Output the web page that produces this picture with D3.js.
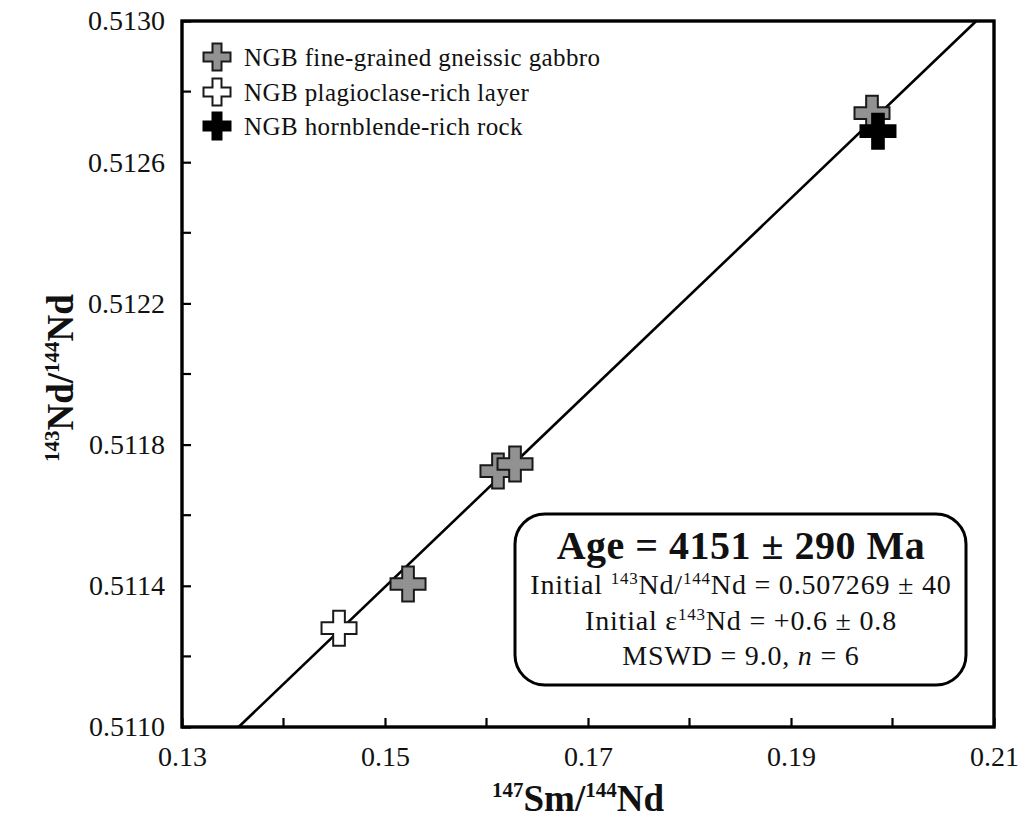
<!DOCTYPE html>
<html>
<head>
<meta charset="utf-8">
<script src="https://cdn.jsdelivr.net/npm/d3@7"></script>
<style>
  html, body { margin: 0; padding: 0; background: #fff; }
  svg { display: block; }
  text { font-family: "Liberation Serif", "Times New Roman", serif; fill: #111; }
</style>
</head>
<body>
<svg id="chart" width="1026" height="819"></svg>
<script>
// Sm–Nd whole-rock isochron data (147Sm/144Nd, 143Nd/144Nd)
const gabbroSm = [0.15227, 0.16113, 0.16281, 0.19798];
const gabbroNd = [0.511405, 0.511725, 0.511745, 0.512739];
const plagSm = [0.14547];
const plagNd = [0.511280];
const hornSm = [0.19857];
const hornNd = [0.512688];

const seriesNames = ["NGB fine-grained gneissic gabbro", "NGB plagioclase-rich layer", "NGB hornblende-rich rock"];
const xTicks = [0.13, 0.15, 0.17, 0.19, 0.21];
const xMinor = [0.14, 0.16, 0.18, 0.20];
const yTicks = [0.5110, 0.5114, 0.5118, 0.5122, 0.5126, 0.5130];
const yMinor = [0.5112, 0.5116, 0.5120, 0.5124, 0.5128];

// Isochron result
const ageMa = 4151, ageErr = 290;
const initialRatio = 0.507269;
const lambdaSm = 6.54e-12; // 147Sm decay constant, 1/yr
const slope = Math.exp(lambdaSm * ageMa * 1e6) - 1;

const svg = d3.select("#chart");
const L = 182, R = 994, T = 21, B = 727;

const x = d3.scaleLinear().domain([0.13, 0.21]).range([L, R]);
const y = d3.scaleLinear().domain([0.5110, 0.5130]).range([B, T]);

// Isochron line clipped to the plot frame
const yLo = y.domain()[0], yHi = y.domain()[1];
const lineData = [
  [(yLo - initialRatio) / slope, yLo],
  [(yHi - initialRatio) / slope, yHi]
];
svg.append("path")
  .attr("d", d3.line().x(d => x(d[0])).y(d => y(d[1]))(lineData))
  .attr("stroke", "#000").attr("stroke-width", 2.6).attr("fill", "none");

// Markers
const crossBig = d3.symbol(d3.symbolCross).size(5 * Math.pow(35 / 3, 2));
const crossSmall = d3.symbol(d3.symbolCross).size(5 * Math.pow(27 / 3, 2));
const styles = [
  { fill: "#929292", stroke: "#1a1a1a" },
  { fill: "#ffffff", stroke: "#1a1a1a" },
  { fill: "#000000", stroke: "#000000" }
];
const groups = [
  { sm: plagSm, nd: plagNd, s: styles[1] },
  { sm: gabbroSm, nd: gabbroNd, s: styles[0] },
  { sm: hornSm, nd: hornNd, s: styles[2] }
];
groups.forEach(g => {
  svg.append("g").selectAll("path")
    .data(g.sm.map((v, i) => [v, g.nd[i]]))
    .join("path")
    .attr("transform", d => `translate(${x(d[0])},${y(d[1])})`)
    .attr("d", crossBig)
    .attr("fill", g.s.fill)
    .attr("stroke", g.s.stroke)
    .attr("stroke-width", 2);
});

// Axes (ticks point inward)
const xAxis = d3.axisBottom(x).tickValues(xTicks).tickFormat(d3.format(".2f")).tickSizeInner(-9).tickSizeOuter(0).tickPadding(19);
const yAxis = d3.axisLeft(y).tickValues(yTicks).tickFormat(d3.format(".4f")).tickSizeInner(-9).tickSizeOuter(0).tickPadding(17);

const gx = svg.append("g").attr("transform", `translate(0,${B})`).call(xAxis);
const gy = svg.append("g").attr("transform", `translate(${L},0)`).call(yAxis);
[gx, gy].forEach(g => {
  g.attr("font-family", null);
  g.select(".domain").remove();
  g.selectAll("line").attr("stroke", "#000").attr("stroke-width", 2.2);
  g.selectAll("text").attr("font-size", 28).attr("fill", "#111")
    .style("font-family", '"Liberation Serif", serif');
});
svg.append("g").attr("transform", `translate(0,${B})`)
  .selectAll("line").data(xMinor).join("line")
  .attr("x1", d => x(d)).attr("x2", d => x(d)).attr("y1", 0).attr("y2", -9)
  .attr("stroke", "#000").attr("stroke-width", 2.2);
svg.append("g").attr("transform", `translate(${L},0)`)
  .selectAll("line").data(yMinor).join("line")
  .attr("y1", d => y(d)).attr("y2", d => y(d)).attr("x1", 0).attr("x2", 9)
  .attr("stroke", "#000").attr("stroke-width", 2.2);

// Frame
svg.append("rect").attr("x", L).attr("y", T).attr("width", R - L).attr("height", B - T)
  .attr("fill", "none").attr("stroke", "#000").attr("stroke-width", 3.4);

// Axis titles
const xt = svg.append("text").attr("x", 578).attr("y", 811)
  .attr("text-anchor", "middle").attr("font-size", 37).attr("font-weight", "bold");
xt.append("tspan").text("147").attr("font-size", 21).attr("dy", -14);
xt.append("tspan").text("Sm/").attr("dy", 14);
xt.append("tspan").text("144").attr("font-size", 21).attr("dy", -14);
xt.append("tspan").text("Nd").attr("dy", 14);

const yt = svg.append("text").attr("transform", `translate(73,${(T + B) / 2 + 4}) rotate(-90)`)
  .attr("text-anchor", "middle").attr("font-size", 37).attr("font-weight", "bold");
yt.append("tspan").text("143").attr("font-size", 21).attr("dy", -14);
yt.append("tspan").text("Nd/").attr("dy", 14);
yt.append("tspan").text("144").attr("font-size", 21).attr("dy", -14);
yt.append("tspan").text("Nd").attr("dy", 14);

// Legend
const legendY = [57, 92, 126];
const legendOrder = [styles[0], styles[1], styles[2]];
seriesNames.forEach((name, i) => {
  svg.append("path")
    .attr("transform", `translate(217,${legendY[i]})`)
    .attr("d", crossSmall)
    .attr("fill", legendOrder[i].fill).attr("stroke", legendOrder[i].stroke).attr("stroke-width", 2);
  svg.append("text").attr("x", 244).attr("y", legendY[i] + 9)
    .attr("font-size", 25).attr("letter-spacing", 0.4).text(name);
});

// Result box
svg.append("rect").attr("x", 515).attr("y", 514).attr("width", 451).attr("height", 171)
  .attr("rx", 30).attr("ry", 30)
  .attr("fill", "#fff").attr("stroke", "#000").attr("stroke-width", 3);
const cx = 741;
svg.append("text").attr("x", cx).attr("y", 559).attr("text-anchor", "middle")
  .attr("font-size", 40).attr("font-weight", "bold").attr("letter-spacing", 0.5)
  .text(`Age = ${ageMa} ± ${ageErr} Ma`);
const body = [594, 630, 665];
const l2 = svg.append("text").attr("x", cx).attr("y", body[0]).attr("text-anchor", "middle").attr("font-size", 28).attr("letter-spacing", 0.8);
l2.append("tspan").text("Initial ");
l2.append("tspan").text("143").attr("font-size", 17).attr("dy", -10);
l2.append("tspan").text("Nd/").attr("dy", 10);
l2.append("tspan").text("144").attr("font-size", 17).attr("dy", -10);
l2.append("tspan").text(`Nd = ${initialRatio} ± 40`).attr("dy", 10);
const l3 = svg.append("text").attr("x", cx).attr("y", body[1]).attr("text-anchor", "middle").attr("font-size", 28).attr("letter-spacing", 0.8);
l3.append("tspan").text("Initial ε");
l3.append("tspan").text("143").attr("font-size", 17).attr("dy", -10);
l3.append("tspan").text("Nd = +0.6 ± 0.8").attr("dy", 10);
const l4 = svg.append("text").attr("x", cx).attr("y", body[2]).attr("text-anchor", "middle").attr("font-size", 28).attr("letter-spacing", 0.8);
l4.append("tspan").text("MSWD = 9.0, ");
l4.append("tspan").text("n").attr("font-style", "italic");
l4.append("tspan").text(" = 6");
</script>
</body>
</html>
